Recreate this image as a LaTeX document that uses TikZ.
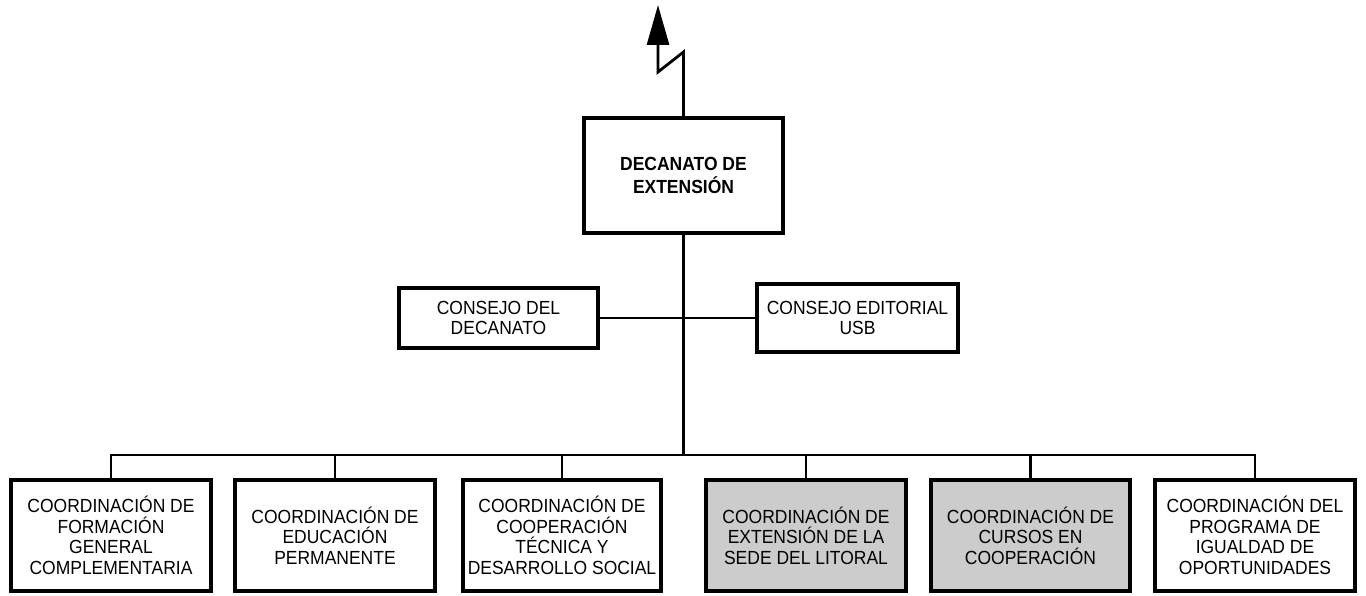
\documentclass[tikz,border=0pt]{standalone}
\usepackage{fontspec}
\setmainfont[FakeStretch=0.92]{Liberation Sans}
\usetikzlibrary{arrows.meta}
\definecolor{boxgray}{RGB}{204,204,204}
\begin{document}
\begin{tikzpicture}[x=1pt,y=-1pt,
  box/.style={draw=black, line width=4pt, fill=white, inner sep=0pt, align=center,
    font=\fontsize{19}{20.6}\selectfont},
  graybox/.style={box, fill=boxgray},
  conn/.style={line width=2.8pt},
  low/.style={minimum height=111pt}
]
\useasboundingbox (0,0) rectangle (1366,596);
% top unit
\node[box, minimum width=199pt, minimum height=115pt,
  font=\bfseries\fontsize{19}{22.5}\selectfont] (dec) at (683.5,175.5) {DECANATO DE\\EXTENSIÓN};
% advisory boxes
\node[box, minimum width=199pt, minimum height=60pt] (cd) at (498.5,318) {CONSEJO DEL\\DECANATO};
\node[box, minimum width=201pt, minimum height=67pt] (ce) at (857.5,318) {CONSEJO EDITORIAL\\USB};
% coordinations
\node[box, low, minimum width=200pt] (c1) at (111,535.5) {COORDINACIÓN DE\\FORMACIÓN\\GENERAL\\COMPLEMENTARIA};
\node[box, low, minimum width=200pt] (c2) at (335,535.5) {COORDINACIÓN DE\\EDUCACIÓN\\PERMANENTE};
\node[box, low, minimum width=198pt] (c3) at (562,535.5) {COORDINACIÓN DE\\COOPERACIÓN\\TÉCNICA Y\\DESARROLLO SOCIAL};
\node[graybox, low, minimum width=200pt] (c4) at (806,535.5) {COORDINACIÓN DE\\EXTENSIÓN DE LA\\SEDE DEL LITORAL};
\node[graybox, low, minimum width=199pt] (c5) at (1030.5,535.5) {COORDINACIÓN DE\\CURSOS EN\\COOPERACIÓN};
\node[box, low, minimum width=200pt] (c6) at (1255,535.5) {COORDINACIÓN DEL\\PROGRAMA DE\\IGUALDAD DE\\OPORTUNIDADES};
% connectors
\coordinate (bus) at (683.5,455);
\coordinate (z1) at (684.5,52);
\coordinate (z2) at (658,72);
\coordinate (tip) at (658,5);
\draw[conn, -{Triangle[length=40pt,width=22pt]}] (dec.north) -- (dec.north |- z1) -- (z2) -- (tip);
\draw[conn] (dec.south) -- (bus);
\draw[conn] (cd.east) -- (ce.west);
\draw[conn] (c1.north) -- (c1.north |- bus) -- (c6.north |- bus) -- (c6.north);
\foreach \n in {c2,c3,c4,c5}
  \draw[conn] (\n.north) -- (\n.north |- bus);
\end{tikzpicture}
\end{document}
